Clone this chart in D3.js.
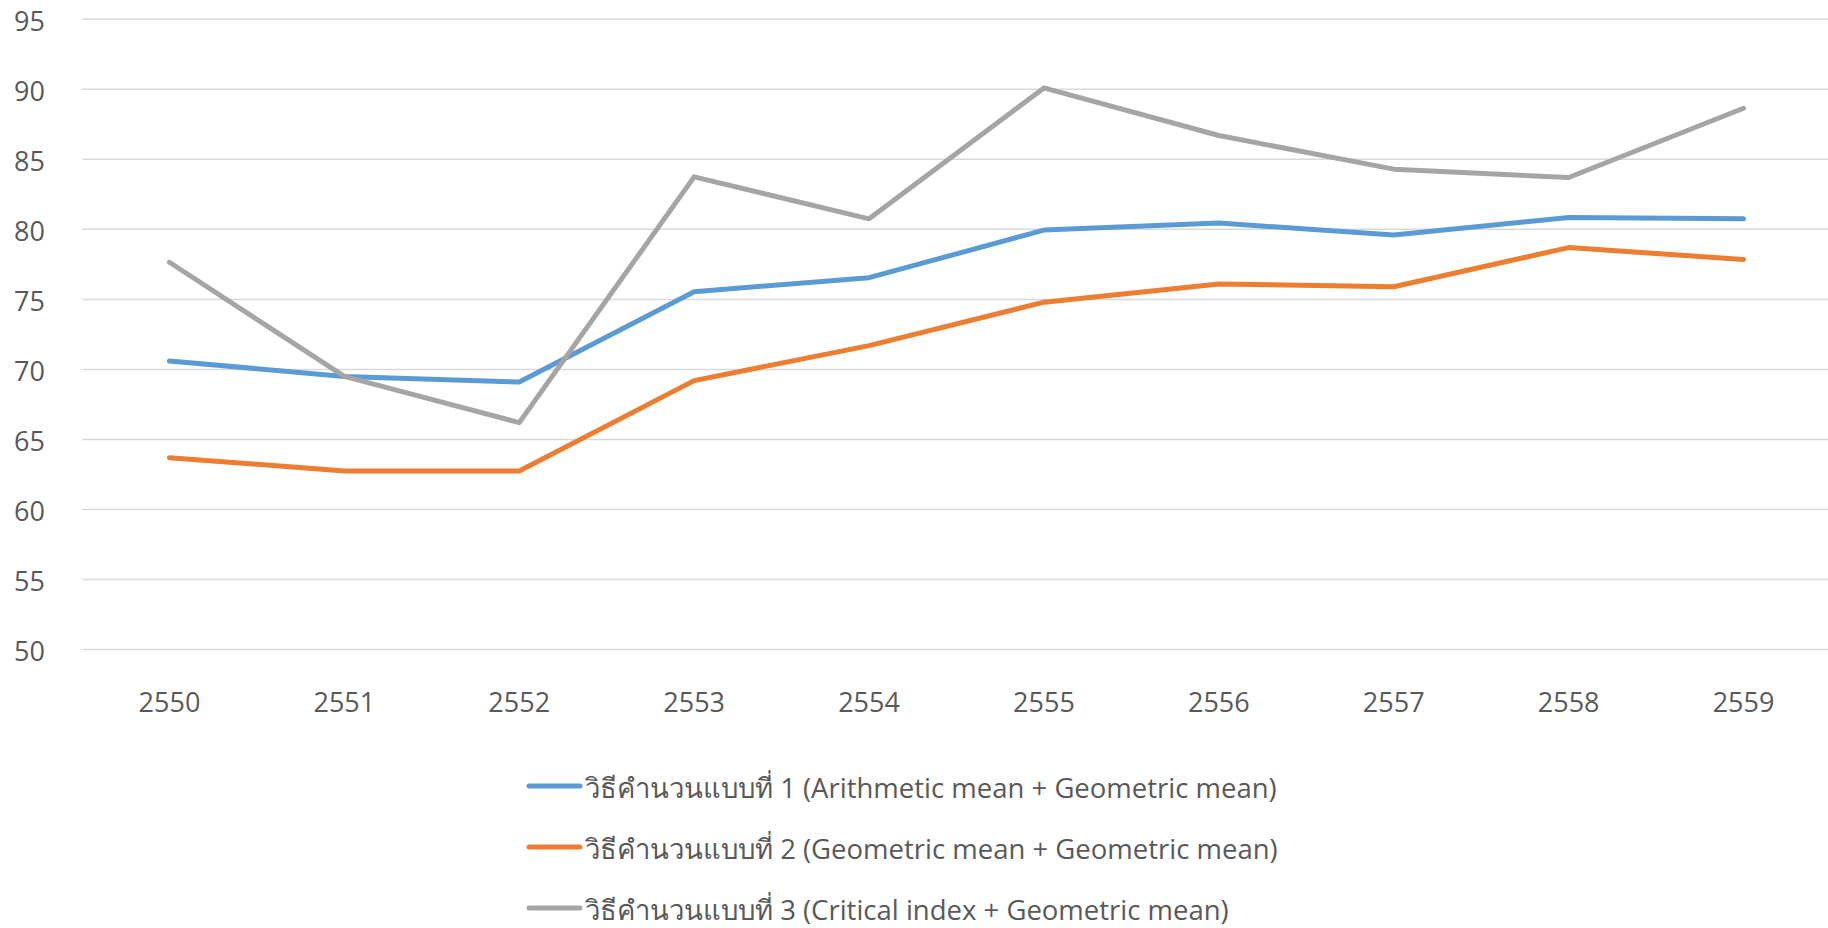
<!DOCTYPE html>
<html>
<head>
<meta charset="utf-8">
<script src="https://cdn.jsdelivr.net/npm/d3@7"></script>
<style>
  body { margin: 0; background: #fff; }
  svg text { font-family: "Open Sans", "Noto Sans", sans-serif; fill: #595959; }
</style>
</head>
<body>
<div id="chart"></div>
<script>
// ปี พ.ศ.
const years = ["2550", "2551", "2552", "2553", "2554", "2555", "2556", "2557", "2558", "2559"];

const seriesNames = [
  "วิธีคำนวนแบบที่ 1 (Arithmetic mean + Geometric mean)",
  "วิธีคำนวนแบบที่ 2 (Geometric mean + Geometric mean)",
  "วิธีคำนวนแบบที่ 3 (Critical index + Geometric mean)"
];
const seriesColors = ["#5B9BD5", "#ED7D31", "#A5A5A5"];

const method1 = [70.6, 69.5, 69.1, 75.55, 76.55, 79.95, 80.45, 79.6, 80.85, 80.75];
const method2 = [63.7, 62.75, 62.75, 69.2, 71.7, 74.8, 76.1, 75.9, 78.7, 77.85];
const method3 = [77.65, 69.5, 66.2, 83.75, 80.75, 90.1, 86.7, 84.3, 83.7, 88.65];

const yTicks = [50, 55, 60, 65, 70, 75, 80, 85, 90, 95];

const allSeries = [method1, method2, method3];

const width = 1828, height = 928;

const svg = d3.select("#chart").append("svg")
  .attr("width", width)
  .attr("height", height);

const x = d3.scalePoint()
  .domain(years)
  .range([82, 1831])
  .padding(0.5);

const y = d3.scaleLinear()
  .domain([50, 95])
  .range([649.5, 19.3]);

// grille horizontale
svg.append("g")
  .selectAll("line")
  .data(yTicks)
  .enter()
  .append("line")
  .attr("x1", 82)
  .attr("x2", 1828)
  .attr("y1", d => y(d))
  .attr("y2", d => y(d))
  .attr("stroke", "#D9D9D9")
  .attr("stroke-width", 1.5);

// axe y
svg.append("g")
  .selectAll("text")
  .data(yTicks)
  .enter()
  .append("text")
  .attr("x", 45)
  .attr("y", d => y(d) + 2)
  .attr("dy", "0.35em")
  .attr("text-anchor", "end")
  .attr("font-size", 27)
  .text(d => d);

// axe x
svg.append("g")
  .selectAll("text")
  .data(years)
  .enter()
  .append("text")
  .attr("x", d => x(d))
  .attr("y", 703)
  .attr("dy", "0.35em")
  .attr("text-anchor", "middle")
  .attr("font-size", 27)
  .text(d => d);

const line = d3.line()
  .x((d, i) => x(years[i]))
  .y(d => y(d));

svg.append("g")
  .selectAll("path")
  .data(allSeries)
  .enter()
  .append("path")
  .attr("d", d => line(d))
  .attr("fill", "none")
  .attr("stroke", (d, i) => seriesColors[i])
  .attr("stroke-width", 5)
  .attr("stroke-linecap", "round")
  .attr("stroke-linejoin", "round");

// légende
const legendY = [786, 847, 908];
const legend = svg.append("g")
  .selectAll("g")
  .data(seriesNames)
  .enter()
  .append("g")
  .attr("transform", (d, i) => "translate(0," + legendY[i] + ")");

legend.append("line")
  .attr("x1", 529)
  .attr("x2", 580)
  .attr("stroke", (d, i) => seriesColors[i])
  .attr("stroke-width", 5)
  .attr("stroke-linecap", "round");

legend.append("text")
  .attr("x", 585)
  .attr("y", 2)
  .attr("dy", "0.35em")
  .attr("font-size", 27.5)
  .text(d => d);
</script>
</body>
</html>
